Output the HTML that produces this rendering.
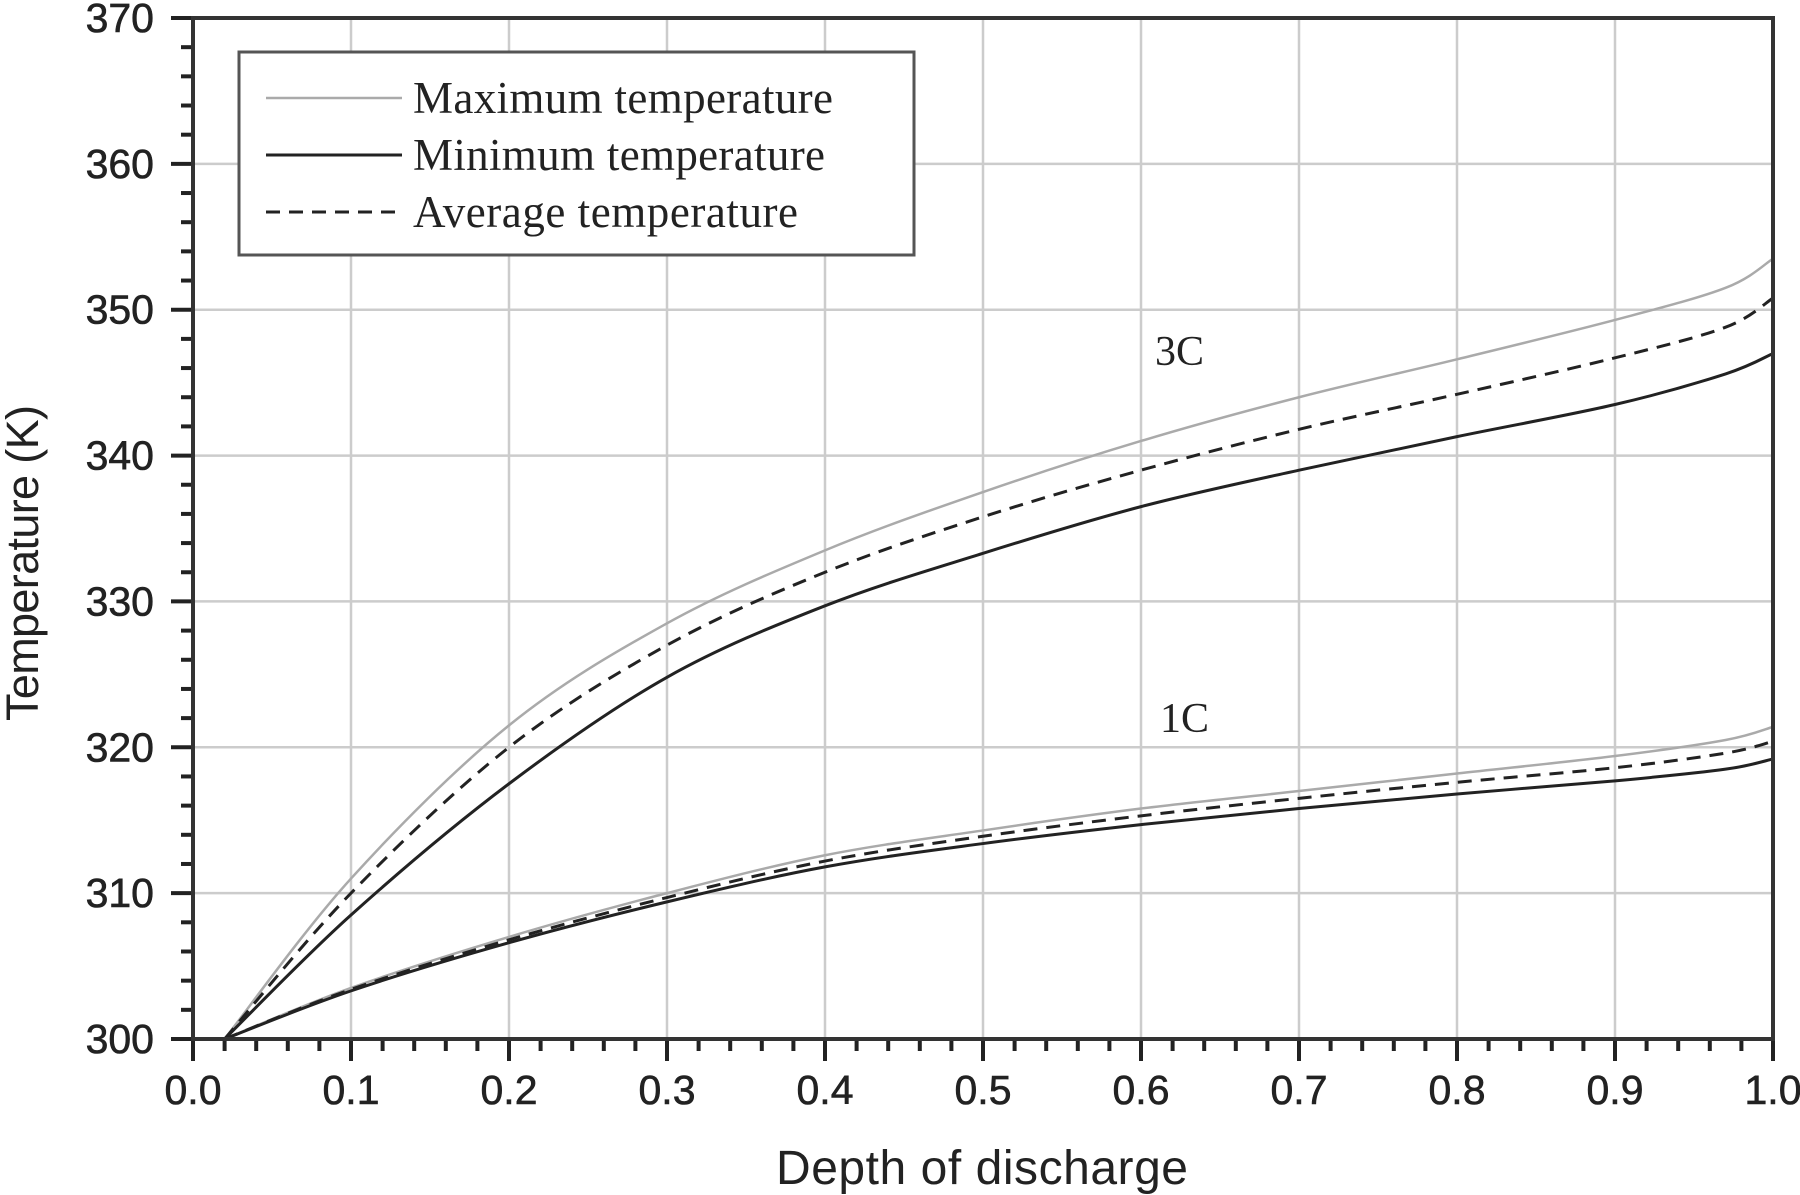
<!DOCTYPE html>
<html><head><meta charset="utf-8"><style>
html,body{margin:0;padding:0;background:#fff;}
svg{display:block;}
</style></head><body>
<svg id="s" width="1800" height="1195" viewBox="0 0 1800 1195" xmlns="http://www.w3.org/2000/svg">
<g id="grid"></g>
<g id="curves"></g>
<g id="ticks"></g>
<rect x="193" y="18" width="1580" height="1021" fill="none" stroke="#333" stroke-width="4"/>
<g id="labels" font-family="Liberation Sans, sans-serif" font-size="41" fill="#222" stroke="#222" stroke-width="0.6"></g>
<rect x="239" y="52" width="675" height="203" fill="#fff" stroke="#555" stroke-width="3"/>
<line x1="266" y1="98" x2="402" y2="98" stroke="#aaa" stroke-width="2.5"/>
<line x1="266" y1="155" x2="402" y2="155" stroke="#222" stroke-width="3"/>
<line x1="266" y1="212" x2="402" y2="212" stroke="#222" stroke-width="3" stroke-dasharray="14,9"/>
<g font-family="Liberation Serif, serif" font-size="45" fill="#222">
<text x="413" y="113" textLength="420">Maximum temperature</text>
<text x="413" y="170" textLength="412">Minimum temperature</text>
<text x="413" y="227" textLength="385">Average temperature</text>
<text x="1155" y="365" font-size="42">3C</text>
<text x="1160" y="732" font-size="42">1C</text>
</g>
<text x="982" y="1184" font-family="Liberation Sans, sans-serif" font-size="48" fill="#222" text-anchor="middle" textLength="412">Depth of discharge</text>
<text transform="translate(38,563) rotate(-90)" font-family="Liberation Sans, sans-serif" font-size="45" fill="#222" text-anchor="middle" textLength="316">Temperature (K)</text>
</svg>
<script>
const X0=193,X1=1773,Y0=1039,Y1=18;
const sx=v=>X0+(X1-X0)*v, sy=v=>Y0-(Y0-Y1)*(v-300)/70;
const ns="http://www.w3.org/2000/svg";
function el(p,t,a){const e=document.createElementNS(ns,t);for(const k in a)e.setAttribute(k,a[k]);document.getElementById(p).appendChild(e);return e;}
for(let i=1;i<10;i++)el("grid","line",{x1:sx(i/10),x2:sx(i/10),y1:Y1,y2:Y0,stroke:"#ccc","stroke-width":2.5});
for(let k=310;k<370;k+=10)el("grid","line",{x1:X0,x2:X1,y1:sy(k),y2:sy(k),stroke:"#ccc","stroke-width":2.5});
for(let i=0;i<=50;i++){const x=sx(i/50),L=i%5==0?22:12;el("ticks","line",{x1:x,x2:x,y1:Y0,y2:Y0+L,stroke:"#222","stroke-width":4});}
for(let k=300;k<=370;k+=2){const y=sy(k),L=k%10==0?22:12;el("ticks","line",{x1:X0,x2:X0-L,y1:y,y2:y,stroke:"#222","stroke-width":4});}
for(let i=0;i<=10;i++){const t=el("labels","text",{x:sx(i/10),y:1104,"text-anchor":"middle"});t.textContent=(i/10).toFixed(1);}
for(let k=300;k<=370;k+=10){const t=el("labels","text",{x:154,y:sy(k)+14,"text-anchor":"end"});t.textContent=k;}
function path(pts){const P=pts.map(p=>[sx(p[0]),sy(p[1])]);let d="M"+P[0][0]+","+P[0][1];
for(let i=0;i<P.length-1;i++){const p0=P[Math.max(i-1,0)],p1=P[i],p2=P[i+1],p3=P[Math.min(i+2,P.length-1)];
d+=` C${p1[0]+(p2[0]-p0[0])/6},${p1[1]+(p2[1]-p0[1])/6} ${p2[0]-(p3[0]-p1[0])/6},${p2[1]-(p3[1]-p1[1])/6} ${p2[0]},${p2[1]}`;}return d;}
const xs=[0.02,0.1,0.2,0.3,0.4,0.5,0.6,0.7,0.8,0.9,0.97,1.0];
const z=(a)=>xs.map((x,i)=>[x,a[i]]);
const c3max=z([300,311,321.5,328.5,333.5,337.5,341,344,346.6,349.3,351.5,353.5]);
const c3avg=z([300,310,320,327,332,335.8,339,341.8,344.2,346.7,348.8,350.8]);
const c3min=z([300,308.5,317.5,324.8,329.7,333.3,336.5,339,341.3,343.5,345.6,347]);
const c1max=z([300,303.5,307,310,312.6,314.3,315.8,317,318.2,319.4,320.5,321.4]);
const c1avg=z([300,303.4,306.8,309.7,312.2,313.9,315.3,316.5,317.6,318.6,319.6,320.4]);
const c1min=z([300,303.3,306.6,309.4,311.8,313.4,314.7,315.8,316.8,317.7,318.5,319.2]);
const grey={fill:"none",stroke:"#aaa","stroke-width":2.5},blk={fill:"none",stroke:"#222","stroke-width":3},dash={fill:"none",stroke:"#222","stroke-width":3,"stroke-dasharray":"14,9"};
[[c3max,grey],[c3avg,dash],[c3min,blk],[c1max,grey],[c1avg,dash],[c1min,blk]].forEach(([p,s])=>el("curves","path",Object.assign({d:path(p)},s)));
</script>
</body></html>
